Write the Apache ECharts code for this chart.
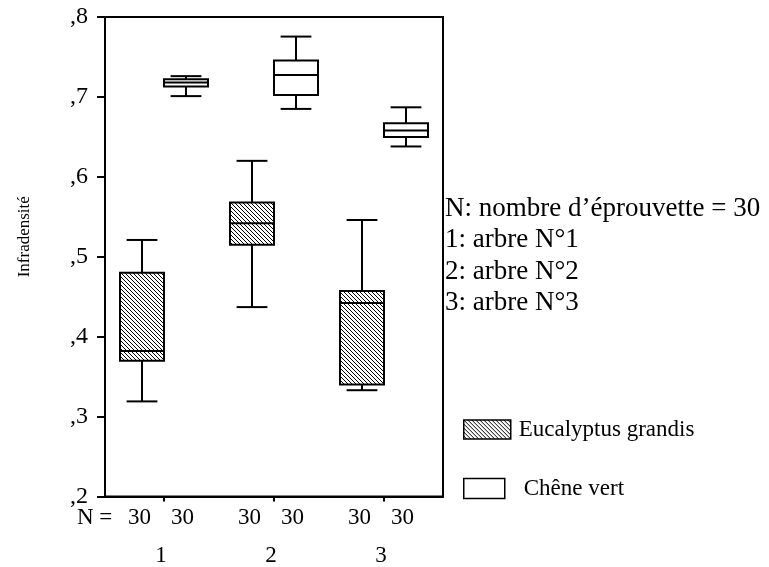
<!DOCTYPE html>
<html>
<head>
<meta charset="utf-8">
<script src="https://cdn.jsdelivr.net/npm/echarts@6/dist/echarts.min.js"></script>
<style>
html,body{margin:0;padding:0;background:#fff;}
#chart{width:769px;height:567px;}
</style>
</head>
<body>
<div id="chart"></div>
<script>
// ---- data ----
const categories = ['1', '2', '3'];
// [min, Q1, median, Q3, max]
const eucalyptusGrandis = [
  [0.319, 0.370, 0.382, 0.480, 0.521],
  [0.437, 0.515, 0.542, 0.568, 0.620],
  [0.333, 0.340, 0.442, 0.457, 0.546]
];
const cheneVert = [
  [0.701, 0.713, 0.718, 0.722, 0.726],
  [0.685, 0.7025, 0.7275, 0.7455, 0.7755],
  [0.638, 0.650, 0.658, 0.667, 0.687]
];
const sampleSizes = [[30, 30], [30, 30], [30, 30]];
const seriesNames = ['Eucalyptus grandis', 'Chêne vert'];
const noteLines = ['N: nombre d\u2019éprouvette = 30', '1: arbre N°1', '2: arbre N°2', '3: arbre N°3'];
const yMin = 0.2, yMax = 0.8, yStep = 0.1;

// ---- hatch pattern ----
function makeHatch() {
  const s = 4;
  const c = document.createElement('canvas');
  c.width = s; c.height = s;
  const g = c.getContext('2d');
  g.fillStyle = '#fff';
  g.fillRect(0, 0, s, s);
  g.strokeStyle = '#000';
  g.lineWidth = 1;
  g.beginPath();
  g.moveTo(-1, -1); g.lineTo(s + 1, s + 1);
  g.moveTo(-1, s - 1); g.lineTo(1, s + 1);
  g.moveTo(s - 1, -1); g.lineTo(s + 1, 1);
  g.stroke();
  return c;
}
const hatch = { image: makeHatch(), repeat: 'repeat' };

const FONT = '"Liberation Serif", "Times New Roman", serif';
const catIdx = categories.map((c, i) => i);

function boxRenderer(side, fill) {
  return function (params, api) {
    const cat = api.value(0);
    const unit = api.size([1, 0])[0];
    const cx = api.coord([cat, yMin])[0];
    const y = [1, 2, 3, 4, 5].map(i => api.coord([cat, api.value(i)])[1]);
    const boxW = unit * 0.4;
    const x0 = side < 0 ? cx - boxW : cx;
    const mid = x0 + boxW / 2;
    const capW = unit * 0.28;
    const ls = { stroke: '#000', lineWidth: 2 };
    return {
      type: 'group',
      children: [
        { type: 'line', shape: { x1: mid, y1: y[0], x2: mid, y2: y[1] }, style: ls },
        { type: 'line', shape: { x1: mid, y1: y[3], x2: mid, y2: y[4] }, style: ls },
        { type: 'line', shape: { x1: mid - capW / 2, y1: y[0], x2: mid + capW / 2, y2: y[0] }, style: ls },
        { type: 'line', shape: { x1: mid - capW / 2, y1: y[4], x2: mid + capW / 2, y2: y[4] }, style: ls },
        { type: 'rect', shape: { x: x0, y: y[3], width: boxW, height: y[1] - y[3] }, style: { fill: fill, stroke: '#000', lineWidth: 2 } },
        { type: 'line', shape: { x1: x0, y1: y[2], x2: x0 + boxW, y2: y[2] }, style: ls }
      ]
    };
  };
}

const chart = echarts.init(document.getElementById('chart'), null, { renderer: 'canvas' });

const graphics = [
  { type: 'text', x: 77, y: 518, style: { text: 'N =', font: '23px ' + FONT, fill: '#000', verticalAlign: 'middle', textVerticalAlign: 'middle' } }
];
const noteY = [209, 240, 272, 303];
noteLines.forEach((t, i) => {
  graphics.push({ type: 'text', x: 445, y: noteY[i], style: { text: t, font: '27px ' + FONT, fill: '#000', verticalAlign: 'middle', textVerticalAlign: 'middle' } });
});

chart.setOption({
  backgroundColor: '#fff',
  animation: false,
  grid: { left: 105, top: 17, right: 326, bottom: 70, show: true, borderColor: '#000', borderWidth: 2, backgroundColor: 'transparent' },
  xAxis: {
    type: 'value',
    min: -0.5364, max: 2.5364,
    axisLine: { onZero: false, lineStyle: { color: '#000', width: 2 } },
    axisTick: { show: true, customValues: catIdx, length: 5, lineStyle: { color: '#000', width: 2 } },
    axisLabel: {
      margin: 2,
      customValues: catIdx,
      padding: [0, 6, 0, 0],
      formatter: function (v) {
        const i = Math.round(v);
        return '{n|' + sampleSizes[i][0] + '}{s|}{n|' + sampleSizes[i][1] + '}\n{c|' + categories[i] + '}';
      },
      rich: {
        n: { fontSize: 23, fontFamily: FONT, color: '#000', lineHeight: 38 },
        s: { width: 20, lineHeight: 38 },
        c: { fontSize: 23, fontFamily: FONT, color: '#000', lineHeight: 38 }
      }
    },
    splitLine: { show: false }
  },
  yAxis: {
    type: 'value',
    min: yMin, max: yMax, interval: yStep,
    name: 'Infradensité',
    nameLocation: 'middle',
    nameGap: 72,
    nameTextStyle: { fontSize: 17, fontFamily: FONT, color: '#000', padding: [0, 0, 0, 40] },
    axisLine: { show: true, onZero: false, lineStyle: { color: '#000', width: 2 } },
    axisTick: { show: true, length: 8, lineStyle: { color: '#000', width: 2 } },
    axisLabel: {
      margin: 17, fontSize: 24, fontFamily: FONT, color: '#000',
      formatter: v => ',' + Math.round(v * 10)
    },
    splitLine: { show: false }
  },
  legend: [
    {
      data: [seriesNames[0]], orient: 'vertical', left: 458, top: 413,
      itemWidth: 47, itemHeight: 19, icon: 'rect',
      itemStyle: { borderColor: '#000', borderWidth: 1.5 },
      textStyle: { fontSize: 23, fontFamily: FONT, color: '#000', padding: [0, 0, 0, 3] }
    },
    {
      data: [seriesNames[1]], orient: 'vertical', left: 458, top: 472,
      itemWidth: 41, itemHeight: 20, icon: 'rect',
      itemStyle: { borderColor: '#000', borderWidth: 1.5 },
      textStyle: { fontSize: 23, fontFamily: FONT, color: '#000', padding: [0, 0, 0, 14] }
    }
  ],
  graphic: graphics,
  series: [
    {
      name: seriesNames[0], type: 'custom',
      renderItem: boxRenderer(-1, hatch),
      itemStyle: { color: hatch, borderColor: '#000', borderWidth: 1.5 },
      encode: { x: 0, y: [1, 2, 3, 4, 5] },
      data: eucalyptusGrandis.map((d, i) => [catIdx[i]].concat(d))
    },
    {
      name: seriesNames[1], type: 'custom',
      renderItem: boxRenderer(1, '#fff'),
      itemStyle: { color: '#fff', borderColor: '#000', borderWidth: 1.5 },
      encode: { x: 0, y: [1, 2, 3, 4, 5] },
      data: cheneVert.map((d, i) => [catIdx[i]].concat(d))
    }
  ]
});
</script>
</body>
</html>
